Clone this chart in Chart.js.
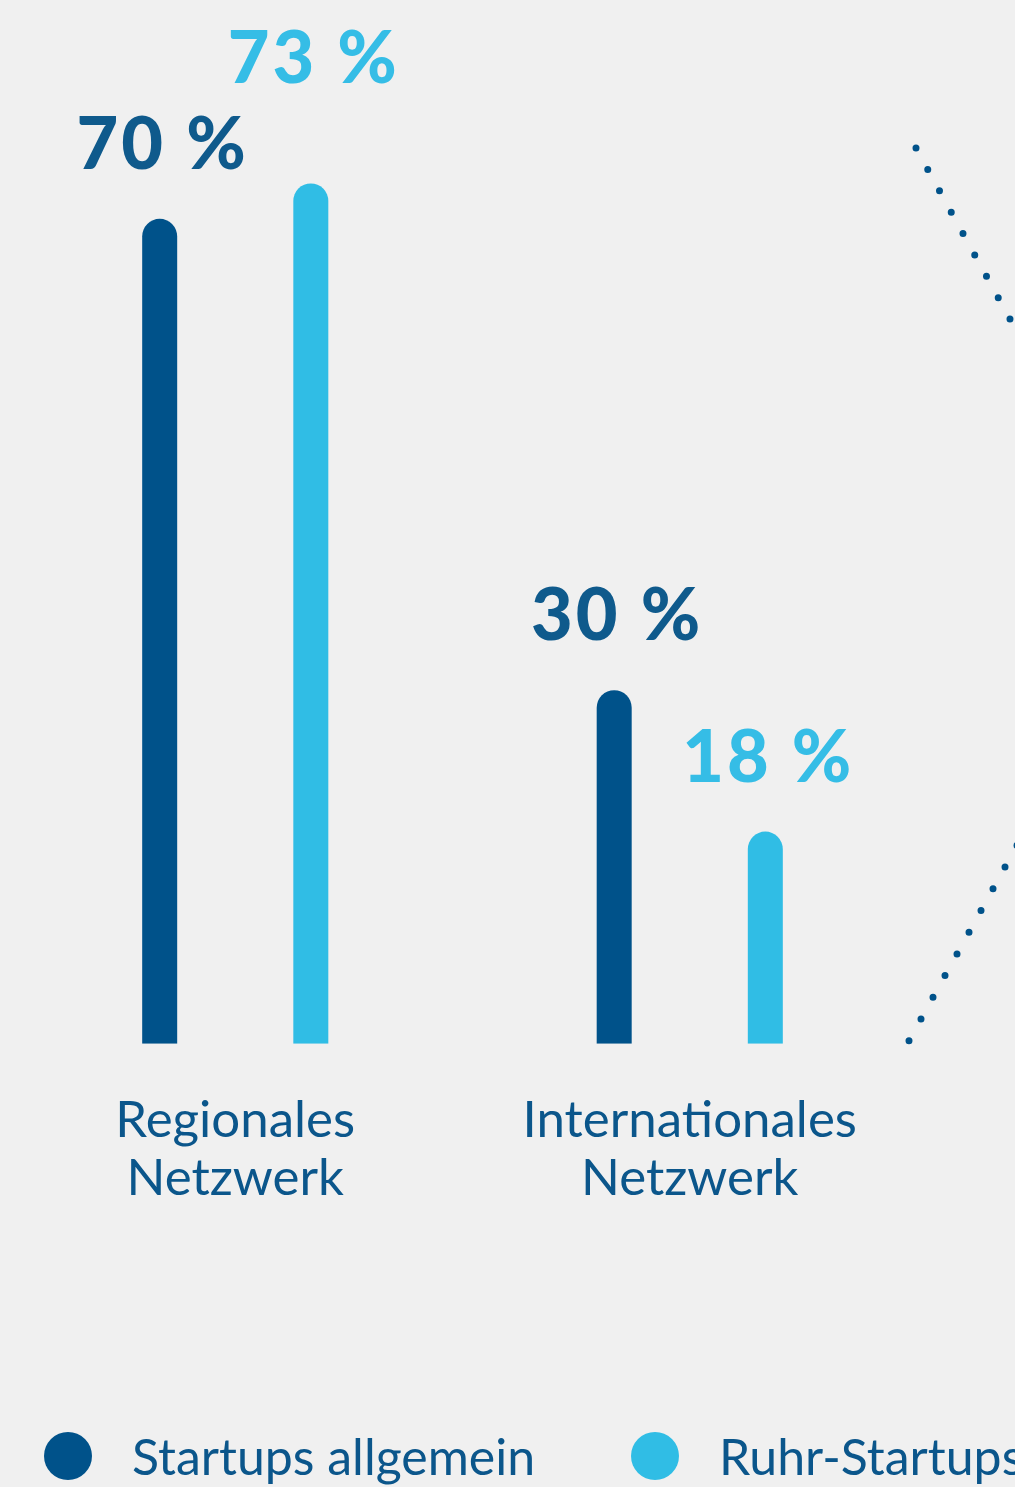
<!DOCTYPE html>
<html lang="de">
<head>
<meta charset="utf-8">
<title>Netzwerk Startups</title>
<script src="https://cdn.jsdelivr.net/npm/chart.js@4.4.1/dist/chart.umd.min.js"></script>
<style>
  html, body { margin: 0; padding: 0; background: #f0f0f0; }
  #chart { display: block; }
</style>
</head>
<body>
<canvas id="chart" width="1015" height="1487"></canvas>
<script>
// chart data
const categories = [['Regionales', 'Netzwerk'], ['Internationales', 'Netzwerk']];
const seriesNames = ['Startups allgemein', 'Ruhr-Startups'];
const startupsAllgemein = [70, 30];
const ruhrStartups = [73, 18];

const DARK = '#00528a';
const LIGHT = '#30bde5';
const TEXT_DARK = '#0b568b';
const FONT = "Lato, 'Noto Sans', sans-serif";

// value labels above each bar
const valueLabels = {
  id: 'valueLabels',
  afterDatasetsDraw(chart) {
    const ctx = chart.ctx;
    ctx.save();
    ctx.font = `900 72px ${FONT}`;
    ctx.letterSpacing = '3px';
    ctx.textAlign = 'center';
    ctx.textBaseline = 'alphabetic';
    chart.data.datasets.forEach((ds, i) => {
      const meta = chart.getDatasetMeta(i);
      ctx.fillStyle = ds.labelColor;
      meta.data.forEach((bar, j) => {
        const lift = (ds.labelLift && ds.labelLift[j]) || 0;
        ctx.fillText(ds.data[j] + ' %', bar.x + 3, bar.y - 50 - lift);
      });
    });
    ctx.restore();
  }
};

// dotted bracket lines on the right side
const dottedLines = {
  id: 'dottedLines',
  beforeDatasetsDraw(chart) {
    const { ctx, chartArea } = chart;
    ctx.save();
    ctx.strokeStyle = DARK;
    ctx.lineWidth = 7;
    ctx.lineCap = 'round';
    ctx.setLineDash([0, 24.4]);
    // upper line
    let x0 = chartArea.right - 1, y0 = chartArea.top + 47;
    ctx.beginPath();
    ctx.moveTo(x0, y0);
    ctx.lineTo(x0 + 11.7 * 12, y0 + 21.3 * 12);
    ctx.stroke();
    // lower line
    x0 = chartArea.right - 8; y0 = chartArea.bottom - 3;
    ctx.setLineDash([0, 24.8]);
    ctx.beginPath();
    ctx.moveTo(x0, y0);
    ctx.lineTo(x0 + 12 * 12, y0 - 21.7 * 12);
    ctx.stroke();
    ctx.restore();
  }
};

// legend drawn at the bottom edge
const bottomLegend = {
  id: 'bottomLegend',
  afterDraw(chart) {
    const ctx = chart.ctx;
    const y = chart.height - 31;
    const dotX = [68, 655];
    ctx.save();
    ctx.font = `400 50px ${FONT}`;
    ctx.textAlign = 'left';
    ctx.textBaseline = 'middle';
    chart.data.datasets.forEach((ds, i) => {
      ctx.fillStyle = ds.backgroundColor;
      ctx.beginPath();
      ctx.arc(dotX[i], y, 24, 0, Math.PI * 2);
      ctx.fill();
      ctx.fillStyle = TEXT_DARK;
      ctx.fillText(ds.label, dotX[i] + 64, y + 3);
    });
    ctx.restore();
  }
};

const barRadius = { topLeft: 18, topRight: 18, bottomLeft: 0, bottomRight: 0 };

new Chart(document.getElementById('chart'), {
  type: 'bar',
  data: {
    labels: categories,
    datasets: [
      {
        label: seriesNames[0],
        data: startupsAllgemein,
        backgroundColor: DARK,
        labelColor: '#0f5a8c',
        borderRadius: barRadius,
        borderSkipped: false
      },
      {
        label: seriesNames[1],
        data: ruhrStartups,
        backgroundColor: LIGHT,
        labelColor: '#35bde6',
        labelLift: [50, 0],
        borderRadius: barRadius,
        borderSkipped: false
      }
    ]
  },
  options: {
    responsive: false,
    devicePixelRatio: 1,
    animation: false,
    categoryPercentage: 0.665,
    barPercentage: 1,
    maxBarThickness: 35,
    layout: { padding: { top: 101, left: 8, right: 98, bottom: 231 } },
    plugins: {
      legend: { display: false },
      tooltip: { enabled: false }
    },
    scales: {
      x: {
        grid: { display: false, drawTicks: false },
        border: { display: false },
        ticks: {
          color: TEXT_DARK,
          padding: 48,
          maxRotation: 0,
          font: { family: FONT, size: 51, lineHeight: 1.14 }
        }
      },
      y: {
        display: false,
        min: 0,
        max: 80
      }
    }
  },
  plugins: [dottedLines, valueLabels, bottomLegend]
});
</script>
</body>
</html>
